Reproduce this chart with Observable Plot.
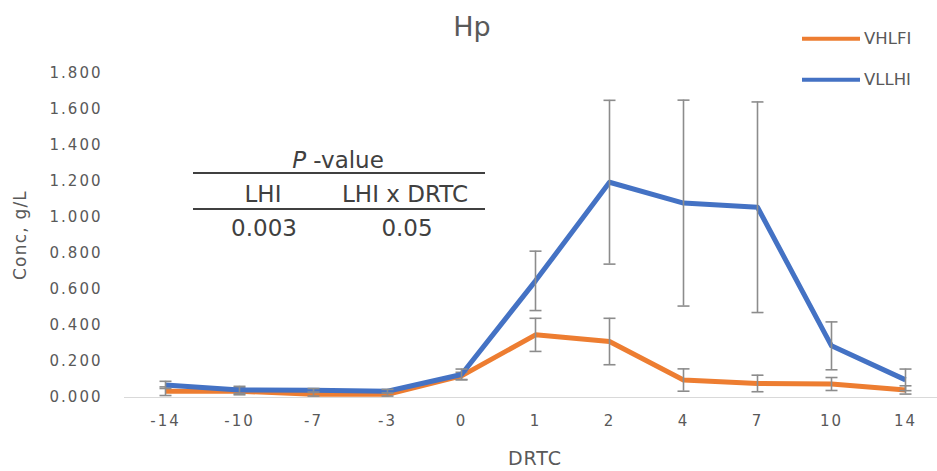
<!DOCTYPE html>
<html>
<head>
<meta charset="utf-8">
<script src="https://cdn.jsdelivr.net/npm/d3@7"></script>
<script src="https://cdn.jsdelivr.net/npm/@observablehq/plot@0.6"></script>
<style>
  html, body { margin: 0; padding: 0; background: #fff; }
  #wrap { position: relative; width: 937px; height: 471px; font-family: "DejaVu Sans", sans-serif; color: #595959; overflow: hidden; }
  #chart { position: absolute; left: 0; top: 0; }
  .abs { position: absolute; white-space: nowrap; line-height: 1; }
  .c { transform: translate(-50%, -50%); }
  #title { left: 472px; top: 26px; font-size: 27px; }
  .leg { font-size: 16.5px; display: flex; align-items: center; transform: translateY(-50%); }
  .leg .sw { display: inline-block; width: 58px; height: 4px; margin-right: 4px; }
  .tbl { color: #404040; font-size: 23px; }
  .hr { position: absolute; left: 193px; width: 292px; height: 2px; background: #404040; }
  #ylabel { left: 20px; top: 235px; font-size: 17px; letter-spacing: 1.2px; transform: translate(-50%, -50%) rotate(-90deg); }
  #xlabel { left: 535px; top: 458px; font-size: 19px; letter-spacing: 1px; }
</style>
</head>
<body>
<div id="wrap">
  <div id="chart"></div>
  <div id="title" class="abs c">Hp</div>
  <div id="ylabel" class="abs">Conc, g/L</div>
  <div id="xlabel" class="abs c">DRTC</div>
  <div id="legend"></div>
  <div id="table"></div>
</div>
<script>
const days = ["-14", "-10", "-7", "-3", "0", "1", "2", "4", "7", "10", "14"];
const seriesNames = ["VHLFI", "VLLHI"];
const seriesColors = ["#ED7D31", "#4472C4"];
const vhlfi = [0.035, 0.035, 0.018, 0.018, 0.12, 0.348, 0.311, 0.097, 0.078, 0.075, 0.042];
const vhlfiErr = [0.024, 0.02, 0.01, 0.01, 0.02, 0.092, 0.129, 0.062, 0.046, 0.036, 0.023];
const vllhi = [0.07, 0.042, 0.04, 0.035, 0.128, 0.648, 1.196, 1.08, 1.057, 0.287, 0.098];
const vllhiErr = [0.02, 0.02, 0.01, 0.01, 0.03, 0.165, 0.455, 0.572, 0.585, 0.133, 0.06];
const yTicks = [0, 0.2, 0.4, 0.6, 0.8, 1.0, 1.2, 1.4, 1.6, 1.8];
const pHeader = ["LHI", "LHI x DRTC"];
const pValues = ["0.003", "0.05"];

const rows = [];
[[vhlfi, vhlfiErr], [vllhi, vllhiErr]].forEach(([v, e], si) => {
  days.forEach((d, i) => rows.push({series: seriesNames[si], day: d, value: v[i], lo: v[i] - e[i], hi: v[i] + e[i]}));
});

const capSymbol = {draw(context) { context.moveTo(-6, 0); context.lineTo(6, 0); }};

const chart = Plot.plot({
  width: 937,
  height: 471,
  marginLeft: 161,
  marginRight: 28,
  marginTop: 73,
  marginBottom: 74,
  style: {fontFamily: "'DejaVu Sans', sans-serif", color: "#595959", background: "transparent", letterSpacing: "2px"},
  x: {type: "point", domain: days, padding: 0, label: null},
  y: {domain: [0, 1.8], label: null},
  color: {domain: seriesNames, range: seriesColors},
  marks: [
    Plot.ruleY([0], {stroke: "#d9d9d9", strokeWidth: 1, insetLeft: -37, insetRight: -28}),
    Plot.axisY({ticks: yTicks, tickFormat: d3.format(".3f"), tickSize: 0, tickPadding: 59, fontSize: 15, fill: "#595959", label: null}),
    Plot.axisX({tickSize: 0, tickPadding: 18, fontSize: 15, fill: "#595959", label: null}),
    ...seriesNames.map((s) => [
      Plot.line(rows.filter(r => r.series === s), {x: "day", y: "value", stroke: "series", strokeWidth: 5, strokeLinejoin: "round", strokeLinecap: "butt"}),
      Plot.ruleX(rows.filter(r => r.series === s), {x: "day", y1: "lo", y2: "hi", stroke: "#8c8c8c", strokeWidth: 1.6}),
      Plot.dot(rows.filter(r => r.series === s), {x: "day", y: "lo", symbol: capSymbol, fill: "none", stroke: "#8c8c8c", strokeWidth: 1.6}),
      Plot.dot(rows.filter(r => r.series === s), {x: "day", y: "hi", symbol: capSymbol, fill: "none", stroke: "#8c8c8c", strokeWidth: 1.6})
    ]).flat()
  ]
});
document.getElementById("chart").appendChild(chart);

// legend
const legend = document.getElementById("legend");
seriesNames.forEach((s, i) => {
  const div = document.createElement("div");
  div.className = "abs leg";
  div.style.left = "802px";
  div.style.top = (39 + i * 41) + "px";
  div.innerHTML = `<span class="sw" style="background:${seriesColors[i]}"></span><span>${s}</span>`;
  legend.appendChild(div);
});

// p-value table
const table = document.getElementById("table");
const place = (html, x, y) => `<div class="abs c tbl" style="left:${x}px;top:${y}px">${html}</div>`;
table.innerHTML =
  place(`<i>P</i> -value`, 338, 160) +
  `<div class="hr" style="top:172px"></div>` +
  place(pHeader[0], 263, 194) + place(pHeader[1], 405, 194) +
  `<div class="hr" style="top:208px"></div>` +
  place(pValues[0], 264, 228) + place(pValues[1], 407, 228);
</script>
</body>
</html>
